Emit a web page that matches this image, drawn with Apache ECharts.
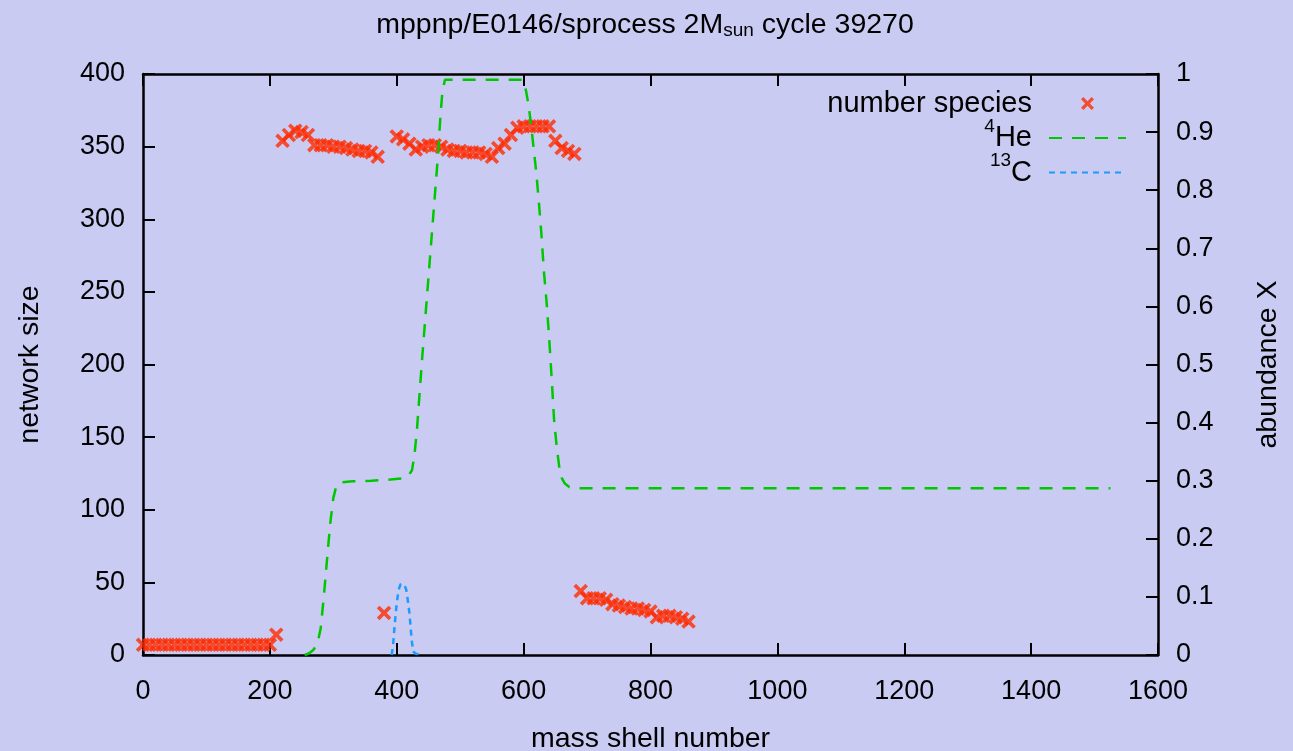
<!DOCTYPE html>
<html>
<head>
<meta charset="utf-8">
<script src="https://cdn.jsdelivr.net/npm/echarts@6/dist/echarts.min.js"></script>
<style>
html,body{margin:0;padding:0;background:#c9cbf2;}
#chart{width:1293px;height:751px;}
</style>
</head>
<body>
<div id="chart"></div>
<script>
// ---- data ----
const speciesShell = [0,10,20,30,40,50,60,70,80,90,100,110,120,130,140,150,160,170,180,190,200,
  210,
  220,230,240,250,260,270,280,290,300,310,320,330,340,350,360,370,
  380,
  400,410,420,430,440,450,460,470,480,490,500,510,520,530,540,550,560,570,580,590,600,610,620,630,640,650,660,670,680,
  690,700,710,720,730,740,750,760,770,780,790,800,810,820,830,840,850,860];
const speciesCount = [7,7,7,7,7,7,7,7,7,7,7,7,7,7,7,7,7,7,7,7,7,
  14,
  354,358,361,360,358,351,351,351,350,350,349,348,347,347,346,343,
  29,
  357,355,352,348,350,351,351,350,348,347,347,346,346,346,345,343,349,352,358,363,364,364,364,364,364,354,349,347,345,
  44,39,39,39,38,35,34,33,32,32,31,30,26,27,27,26,25,23];

const heShell = [255,262,268,272,276,280,285,290,295,300,305,312,330,360,390,410,418,424,428,
  432,440,450,460,465,469,472,476,520,560,598,
  601,604,608,612,616,620,624,628,632,636,640,644,648,652,656,660,665,672,680,
  800,1000,1200,1400,1525];
const heAbund = [0.0,0.003,0.008,0.014,0.025,0.045,0.10,0.163,0.225,0.27,0.292,0.297,0.299,0.300,0.302,0.304,0.308,0.318,0.345,
  0.39,0.51,0.65,0.79,0.86,0.93,0.97,0.99,0.99,0.99,0.99,
  0.985,0.97,0.945,0.91,0.87,0.83,0.78,0.725,0.66,0.61,0.55,0.48,0.405,0.36,0.325,0.305,0.295,0.289,0.287,
  0.287,0.287,0.287,0.287,0.287];

const c13Shell = [392,394,397,400,403,406,409,412,415,418,420,422,424,426,430,440];
const c13Abund = [0.0,0.015,0.055,0.09,0.112,0.122,0.124,0.121,0.112,0.09,0.072,0.045,0.022,0.006,0.002,0.001];

const xTickStep = 200;
const yLeftStep = 50;
const yRightStep = 0.1;

// ---- styling ----
const FONT = '"Liberation Sans", Arial, Helvetica, sans-serif';
const crossPath = 'path://M0,1.8L1.8,0L5,3.2L8.2,0L10,1.8L6.8,5L10,8.2L8.2,10L5,6.8L1.8,10L0,8.2L3.2,5Z';
const zip = (a, b) => a.map((v, i) => [v, b[i]]);

const axisLineStyle = { color: '#000', width: 2.5 };
const tickStyle = { show: true, inside: true, length: 12, lineStyle: { color: '#000', width: 2 } };
const labelStyle = { color: '#000', fontSize: 27, fontFamily: FONT, margin: 18 };
const plainNum = function (v) { return String(Math.round(v * 10) / 10); };

const chart = echarts.init(document.getElementById('chart'), null, { renderer: 'canvas' });
chart.setOption({
  backgroundColor: '#c9cbf2',
  animation: false,
  title: {
    text: 'mppnp/E0146/sprocess 2M{sub|sun} cycle 39270',
    left: 640,
    textAlign: 'center',
    top: 6,
    textStyle: {
      fontSize: 28.5, fontWeight: 'normal', color: '#000', fontFamily: FONT,
      rich: {
        sub: { fontSize: 19, fontFamily: FONT, color: '#000', lineHeight: 12, verticalAlign: 'bottom' }
      }
    }
  },
  legend: {
    orient: 'vertical',
    right: 166,
    top: 89,
    align: 'right',
    itemWidth: 77,
    itemHeight: 13,
    itemGap: -1,
    padding: 0,
    selectedMode: false,
    symbolKeepAspect: true,
    textStyle: {
      color: '#000', fontSize: 29, fontFamily: FONT, padding: [0, 12, 0, 0],
      rich: {
        sup: { fontSize: 19, fontFamily: FONT, color: '#000', lineHeight: 19, verticalAlign: 'top' },
        base: { fontSize: 29, fontFamily: FONT, color: '#000', lineHeight: 42 }
      }
    },
    formatter: function (name) {
      if (name === '4He') return '{sup|4}{base|He}';
      if (name === '13C') return '{sup|13}{base|C}';
      return '{base|' + name + '}';
    },
    data: [
      { name: 'number species', icon: crossPath },
      { name: '4He', itemStyle: { opacity: 0 } },
      { name: '13C', itemStyle: { opacity: 0 } }
    ]
  },
  grid: { left: 143, right: 135, top: 74, bottom: 96, containLabel: false, outerBoundsMode: 'none' },
  xAxis: [
    {
      type: 'value', position: 'bottom', min: 0, max: 1600, interval: xTickStep,
      name: 'mass shell number', nameLocation: 'middle', nameGap: 70,
      nameTextStyle: { color: '#000', fontSize: 28.5, fontFamily: FONT },
      axisLine: { show: true, onZero: false, lineStyle: axisLineStyle },
      axisTick: tickStyle,
      axisLabel: Object.assign({}, labelStyle, { margin: 23, formatter: plainNum }),
      splitLine: { show: false }
    },
    {
      type: 'value', position: 'top', min: 0, max: 1600, interval: xTickStep,
      axisLine: { show: true, onZero: false, lineStyle: axisLineStyle },
      axisTick: tickStyle,
      axisLabel: { show: false },
      splitLine: { show: false }
    }
  ],
  yAxis: [
    {
      type: 'value', position: 'left', min: 0, max: 400, interval: yLeftStep,
      name: 'network size', nameLocation: 'middle', nameGap: 98, nameRotate: 90,
      nameTextStyle: { color: '#000', fontSize: 28.5, fontFamily: FONT },
      axisLine: { show: true, onZero: false, lineStyle: axisLineStyle },
      axisTick: tickStyle,
      axisLabel: Object.assign({}, labelStyle, { formatter: plainNum }),
      splitLine: { show: false }
    },
    {
      type: 'value', position: 'right', min: 0, max: 1, interval: yRightStep,
      name: 'abundance X', nameLocation: 'middle', nameGap: 96, nameRotate: 90,
      nameTextStyle: { color: '#000', fontSize: 28.5, fontFamily: FONT },
      axisLine: { show: true, onZero: false, lineStyle: axisLineStyle },
      axisTick: tickStyle,
      axisLabel: Object.assign({}, labelStyle, { formatter: plainNum }),
      splitLine: { show: false }
    }
  ],
  series: [
    {
      name: 'number species', type: 'scatter', xAxisIndex: 0, yAxisIndex: 0,
      symbol: crossPath, symbolSize: 14.5,
      itemStyle: { color: '#ff2a00' },
      data: zip(speciesShell, speciesCount)
    },
    {
      name: '4He', type: 'line', xAxisIndex: 0, yAxisIndex: 1,
      symbol: 'none', showSymbol: false,
      lineStyle: { color: '#00c800', width: 2.5, type: [13, 10] },
      itemStyle: { color: '#00c800' },
      data: zip(heShell, heAbund)
    },
    {
      name: '13C', type: 'line', xAxisIndex: 0, yAxisIndex: 1,
      symbol: 'none', showSymbol: false,
      lineStyle: { color: '#1a9cff', width: 2.5, type: [6, 5] },
      itemStyle: { color: '#1a9cff' },
      data: zip(c13Shell, c13Abund)
    }
  ]
});
</script>
</body>
</html>
